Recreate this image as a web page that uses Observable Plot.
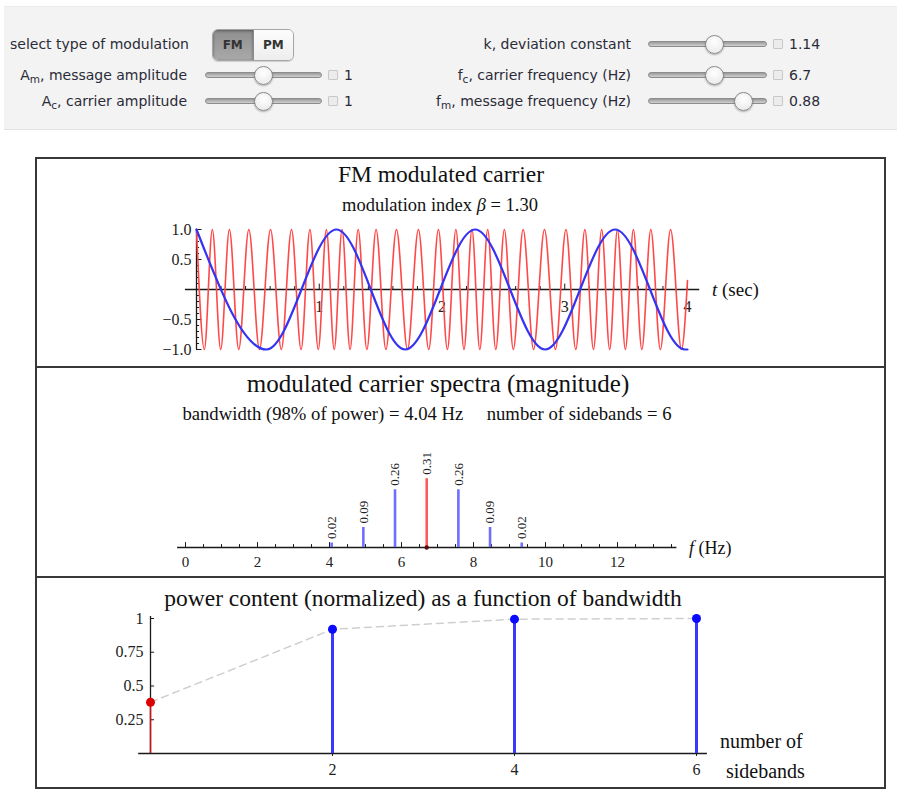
<!DOCTYPE html>
<html><head><meta charset="utf-8">
<script src="https://cdn.jsdelivr.net/npm/d3@7"></script>
<script src="https://cdn.jsdelivr.net/npm/@observablehq/plot@0.6"></script>
<style>
body{margin:0;width:901px;height:809px;background:#fff;position:relative;overflow:hidden;font-family:"DejaVu Sans",sans-serif}
.abs{position:absolute;white-space:nowrap}
.ctrl{color:#2b2b38}
.serif{font-family:"Liberation Serif","Times New Roman",serif;color:#111}
sub{font-size:75%;vertical-align:-3px;line-height:0}
.track{position:absolute;height:4px;border-radius:3px;background:linear-gradient(#9a9a9a,#d0d0d0);border:1px solid #8c8c8c}
.thumb{position:absolute;width:17px;height:17px;border-radius:50%;background:radial-gradient(circle at 50% 35%,#fff,#e6e6e6);border:1px solid #8a8a8a;box-shadow:0 1px 2px rgba(0,0,0,.3)}
.icon{position:absolute;width:8px;height:8px;border:1px solid #c8c8c8;background:#ececec;border-radius:1px}
.svgbox{position:absolute}
</style>
</head><body>
<script>
// ---------------- data ----------------
const modulationTypes = ["FM", "PM"];
const selectedModulation = "FM";
const leftControlLabels = ["A<sub>m</sub>, message amplitude", "A<sub>c</sub>, carrier amplitude"];
const leftControlValues = ["1", "1"];
const rightControlLabels = ["k, deviation constant", "f<sub>c</sub>, carrier frequency (Hz)", "f<sub>m</sub>, message frequency (Hz)"];
const rightControlValues = ["1.14", "6.7", "0.88"];

const panel1Title = "FM modulated carrier";
const panel1Subtitle = "modulation index <i>β</i> = 1.30";
// message (blue) extrema: time (sec) and value
const messageTime = [0, 0.57, 1.14, 1.70, 2.27, 2.84, 3.41, 3.98, 4.0];
const messageValue = [1, -1, 1, -1, 1, -1, 1, -1, -1];
// FM carrier (red) extrema: time (sec) and value
const carrierTime = [0, 0.064, 0.129, 0.197, 0.268, 0.344, 0.426, 0.513, 0.603, 0.691, 0.774, 0.852, 0.924, 0.992,
  1.058, 1.122, 1.186, 1.251, 1.317, 1.388, 1.463, 1.543, 1.629, 1.719, 1.808, 1.892, 1.971,
  2.044, 2.113, 2.179, 2.244, 2.308, 2.372, 2.438, 2.508, 2.581, 2.661, 2.746, 2.835, 2.924,
  3.01, 3.09, 3.164, 3.234, 3.301, 3.366, 3.429, 3.494, 3.559, 3.628, 3.701, 3.779, 3.862, 3.951, 4.0];
const carrierValue = [1, -1, 1, -1, 1, -1, 1, -1, 1, -1, 1, -1, 1, -1, 1, -1, 1, -1, 1, -1, 1, -1, 1, -1, 1, -1, 1,
  -1, 1, -1, 1, -1, 1, -1, 1, -1, 1, -1, 1, -1, 1, -1, 1, -1, 1, -1, 1, -1, 1, -1, 1, -1, 1, -1, 0.15];
const timeTicks = [1, 2, 3, 4];
const ampTicks = [1, 0.5, -0.5, -1];
const ampTickLabels = ["1.0", "0.5", "−0.5", "−1.0"];

const panel2Title = "modulated carrier spectra (magnitude)";
const panel2Subtitle = "bandwidth (98% of power) = 4.04 Hz &nbsp;&nbsp;&nbsp; number of sidebands = 6";
const spectrumFreq = [4.06, 4.94, 5.82, 6.70, 7.58, 8.46, 9.34];
const spectrumMag = [0.02, 0.09, 0.26, 0.31, 0.26, 0.09, 0.02];
const spectrumLabels = ["0.02", "0.09", "0.26", "0.31", "0.26", "0.09", "0.02"];
const spectrumIsCarrier = [false, false, false, true, false, false, false];
const freqTicks = [0, 2, 4, 6, 8, 10, 12];

const panel3Title = "power content (normalized) as a function of bandwidth";
const sidebandCounts = [0, 2, 4, 6];
const powerFraction = [0.38, 0.92, 0.995, 1.0];
const powerTicks = [0.25, 0.5, 0.75, 1];
const powerTickLabels = ["0.25", "0.5", "0.75", "1"];
const sidebandTicks = [2, 4, 6];

// ---------------- helpers ----------------
function el(tag, cls, style, html) {
  const e = document.createElement(tag);
  if (cls) e.className = cls;
  Object.assign(e.style, style || {});
  if (html != null) e.innerHTML = html;
  document.body.appendChild(e);
  return e;
}
function text(html, x, y, cls, anchor, size) {
  const tx = anchor === "middle" ? "-50%" : anchor === "end" ? "-100%" : "0";
  return el("div", "abs " + cls, {left: x + "px", top: y + "px", transform: `translate(${tx},-50%)`, fontSize: size + "px"}, html);
}
const ctrlSize = 14;
function slider(x0, x1, y, frac, valueText) {
  el("div", "track", {left: x0 + "px", top: (y - 3) + "px", width: (x1 - x0) + "px"});
  el("div", "thumb", {left: (x0 + frac * (x1 - x0) - 8.5) + "px", top: (y - 9.5) + "px"});
  el("div", "icon", {left: (x1 + 8) + "px", top: (y - 5) + "px"});
  text(valueText, x1 + 24, y, "ctrl", "start", ctrlSize);
}

// ---------------- control panel ----------------
el("div", "", {position: "absolute", left: "4px", top: "6px", width: "893px", height: "122px", background: "#f3f3f3", borderBottom: "1px solid #e2e2e2", borderTop: "1px solid #ececec"});
text("select type of modulation", 10, 44, "ctrl", "start", ctrlSize);
const seg = el("div", "", {position: "absolute", left: "212px", top: "29px", width: "80px", height: "30px", borderRadius: "6px", border: "1px solid #a5a5a5", overflow: "hidden", display: "flex", boxShadow: "0 1px 1px rgba(0,0,0,.15)"});
modulationTypes.forEach(m => {
  const b = document.createElement("div");
  const on = m === selectedModulation;
  Object.assign(b.style, {flex: "1", display: "flex", alignItems: "center", justifyContent: "center", fontSize: "12px", fontWeight: "bold", color: "#333",
    background: on ? "linear-gradient(#8f8f8f,#a9a9a9)" : "linear-gradient(#fdfdfd,#ededed)", boxShadow: on ? "inset 0 1px 3px rgba(0,0,0,.4)" : "none",
    borderRight: on ? "1px solid #8a8a8a" : "none"});
  b.textContent = m;
  seg.appendChild(b);
});
const rowY = [75, 101];
const leftFrac = [0.5, 0.5];
leftControlLabels.forEach((l, i) => {
  text(l, 187, rowY[i], "ctrl", "end", ctrlSize);
  slider(205, 320, rowY[i], leftFrac[i], leftControlValues[i]);
});
const rowYR = [44, 75, 101];
const rightFrac = [0.56, 0.56, 0.81];
rightControlLabels.forEach((l, i) => {
  text(l, 631, rowYR[i], "ctrl", "end", ctrlSize);
  slider(648, 765, rowYR[i], rightFrac[i], rightControlValues[i]);
});

// ---------------- frame ----------------
el("div", "", {position: "absolute", left: "35px", top: "157px", width: "851px", height: "632px", border: "2px solid #383838", boxSizing: "border-box"});
el("div", "", {position: "absolute", left: "35px", top: "366px", width: "851px", height: "2px", background: "#383838"});
el("div", "", {position: "absolute", left: "35px", top: "576px", width: "851px", height: "2px", background: "#383838"});

const serifFont = "Liberation Serif, Times New Roman, serif";
const axisColor = "#1a1a1a";
const tickFont = 16;
function place(svg, left, top) {
  const d = el("div", "svgbox", {left: left + "px", top: top + "px"});
  d.appendChild(svg);
}

// ---------------- panel 1 ----------------
text(panel1Title, 441, 174, "serif", "middle", 23.5);
text(panel1Subtitle, 440, 205, "serif", "middle", 18.5);
const tMinor = d3.range(0.2, 4.001, 0.2).map(v => +v.toFixed(1));
const aMinor = d3.range(-1, 1.001, 0.1).map(v => +v.toFixed(1));
const chart1 = Plot.plot({
  width: 847, height: 205, marginLeft: 159, marginRight: 197, marginTop: 69, marginBottom: 16,
  x: {domain: [0, 4], axis: null}, y: {domain: [-1, 1], axis: null},
  style: {background: "transparent", overflow: "visible"},
  marks: [
    Plot.ruleY([0], {x1: -0.09, x2: 4.1, stroke: axisColor, strokeWidth: 1.3}),
    Plot.ruleX([0], {y1: -1, y2: 1, stroke: axisColor, strokeWidth: 1.3}),
    Plot.ruleX(tMinor, {x: d => d, y1: 0, y2: d => Number.isInteger(d) ? 0.09 : 0.05, stroke: axisColor}),
    Plot.ruleY(aMinor, {y: d => d, x1: 0, x2: d => (Math.abs(d) % 0.5 < 1e-6) ? 0.045 : 0.025, stroke: axisColor}),
    Plot.text(timeTicks, {x: d => d, y: 0, dy: 17, text: d => String(d), fontFamily: serifFont, fontSize: tickFont, fill: "#222"}),
    Plot.text(ampTicks, {x: 0, y: d => d, dx: -5, textAnchor: "end", text: (d, i) => ampTickLabels[i], fontFamily: serifFont, fontSize: tickFont, fill: "#222"}),
    Plot.line(carrierTime.map((t, i) => ({t, v: carrierValue[i]})), {x: "t", y: "v", curve: "monotone-x", stroke: "#ff4848", strokeWidth: 1.6}),
    Plot.line(messageTime.map((t, i) => ({t, v: messageValue[i]})), {x: "t", y: "v", curve: "monotone-x", stroke: "#3434f2", strokeWidth: 2.2})
  ]
});
place(chart1, 37, 160);
text("<i>t</i> (sec)", 712, 290, "serif", "start", 19);

// ---------------- panel 2 ----------------
text(panel2Title, 438, 384, "serif", "middle", 25);
text(panel2Subtitle, 427, 414, "serif", "middle", 18.7);
const fMinor = d3.range(0, 13.51, 0.5).map(v => +v.toFixed(1));
const spectrum = spectrumFreq.map((f, i) => ({f, m: spectrumMag[i], label: spectrumLabels[i], carrier: spectrumIsCarrier[i]}));
const chart2 = Plot.plot({
  width: 847, height: 207, marginLeft: 148, marginRight: 267, marginTop: 67, marginBottom: 29,
  x: {domain: [0, 12], axis: null}, y: {domain: [0, 0.5], axis: null},
  style: {background: "transparent", overflow: "visible"},
  marks: [
    Plot.ruleY([0], {x1: -0.22, x2: 13.65, stroke: axisColor, strokeWidth: 1.3}),
    Plot.ruleX(fMinor, {x: d => d, y1: 0, y2: d => (d % 2 === 0) ? 0.022 : 0.013, stroke: axisColor}),
    Plot.text(freqTicks, {x: d => d, y: 0, dy: 15, text: d => String(d), fontFamily: serifFont, fontSize: 15, fill: "#222"}),
    Plot.ruleX(spectrum, {x: "f", y1: 0, y2: "m", stroke: d => d.carrier ? "#ff5a5a" : "#6e6eff", strokeWidth: 2.6}),
    Plot.dot(spectrum.filter(d => d.carrier), {x: "f", y: 0, r: 2.2, fill: "#5a0a0a", stroke: "none"}),
    Plot.text(spectrum, {x: "f", y: "m", text: "label", rotate: -90, textAnchor: "start", dy: -4, fontFamily: serifFont, fontSize: 13, fill: "#222"})
  ]
});
place(chart2, 37, 369);
text("<i>f</i> (Hz)", 689, 548, "serif", "start", 18);

// ---------------- panel 3 ----------------
text(panel3Title, 423, 598, "serif", "middle", 23.5);
const power = sidebandCounts.map((n, i) => ({n, p: powerFraction[i]}));
const chart3 = Plot.plot({
  width: 847, height: 207, marginLeft: 113, marginRight: 188, marginTop: 39, marginBottom: 33,
  x: {domain: [0, 6], axis: null}, y: {domain: [0, 1], axis: null},
  style: {background: "transparent", overflow: "visible"},
  marks: [
    Plot.ruleY([0], {x1: -0.13, x2: 6.12, stroke: axisColor, strokeWidth: 1.3}),
    Plot.ruleX([0], {y1: 0, y2: 1.015, stroke: axisColor, strokeWidth: 1.3}),
    Plot.ruleY(powerTicks, {y: d => d, x1: 0, x2: 0.045, stroke: axisColor}),
    Plot.ruleX(sidebandTicks, {x: d => d, y1: 0, y2: -0.022, stroke: axisColor}),
    Plot.text(powerTicks, {x: 0, y: d => d, dx: -7, textAnchor: "end", text: (d, i) => powerTickLabels[i], fontFamily: serifFont, fontSize: tickFont, fill: "#222"}),
    Plot.text(sidebandTicks, {x: d => d, y: 0, dy: 16, text: d => String(d), fontFamily: serifFont, fontSize: tickFont, fill: "#222"}),
    Plot.line(power, {x: "n", y: "p", stroke: "#cfcfcf", strokeWidth: 1.5, strokeDasharray: "7,5"}),
    Plot.ruleX(power, {x: "n", y1: 0, y2: "p", stroke: d => d.n === 0 ? "#cc1111" : "#3838ff", strokeWidth: d => d.n === 0 ? 1.5 : 3}),
    Plot.dot(power, {x: "n", y: "p", r: 4.5, fill: d => d.n === 0 ? "#dd0000" : "#0a0aff", stroke: "none"})
  ]
});
place(chart3, 37, 579);
text("number of", 720, 741, "serif", "start", 20);
text("sidebands", 726, 771, "serif", "start", 20);
</script>
</body></html>
